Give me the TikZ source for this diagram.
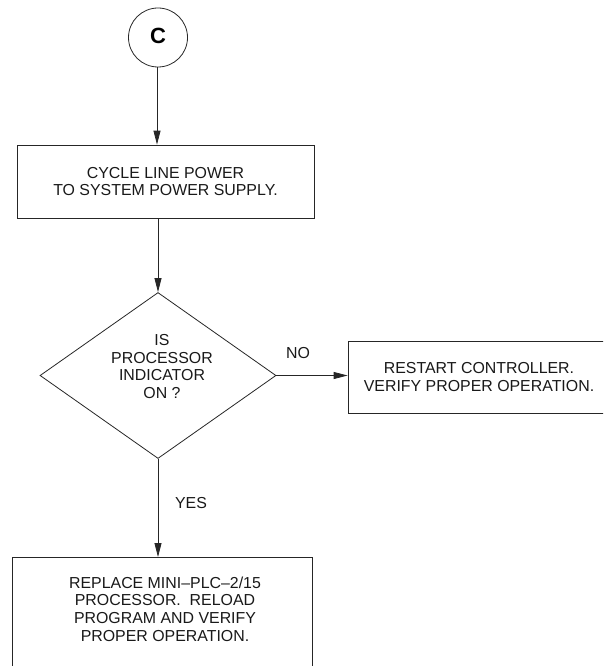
\documentclass[tikz,border=0pt]{standalone}
\usepackage{fontspec}
\setmainfont{Liberation Sans}
\usetikzlibrary{shapes.geometric,arrows.meta}
\begin{document}
\begin{tikzpicture}[x=1pt,y=-1pt,
  every node/.style={inner sep=0pt},
  ln/.style={draw=black!85,line width=0.8pt},
  arr/.style={ln,-{Triangle[length=14pt,width=7pt]}},
  txt/.style={font=\fontsize{15.9}{17.6}\selectfont,align=center,text=black!90},
  boxn/.style={ln,rectangle}]
\useasboundingbox (0,0) rectangle (603,666);
\clip (0,0) rectangle (603,666);
\node[ln,circle,minimum size=59pt] (c) at (158,37.5) {};
\node[font=\fontsize{22}{22}\bfseries] (cl) at (158,36) {C};
\node[boxn,minimum width=297pt,minimum height=73pt,txt] (b1) at (165.5,181.5) {CYCLE LINE POWER\\TO SYSTEM POWER SUPPLY.};
\node[ln,diamond,minimum width=236pt,minimum height=166pt] (d) at (158,375.5) {};
\node[txt] (dt) at (162,366.5) {IS\\PROCESSOR\\INDICATOR\\ON ?};
\node[boxn,minimum width=262pt,minimum height=72pt,txt] (b2) at (479,377) {RESTART CONTROLLER.\\VERIFY PROPER OPERATION.};
\node[boxn,minimum width=300pt,minimum height=140pt,anchor=north] (b3) at (162,557) {};
\node[txt] (t3) at (165,609) {REPLACE MINI--PLC--2/15\\PROCESSOR.\ \ RELOAD\\PROGRAM AND VERIFY\\PROPER OPERATION.};
\node[txt] (no) at (298,353) {NO};
\node[txt] (yes) at (191,503) {YES};
\draw[arr] (c.south -| 157,0) -- (157,0 |- b1.north);
\draw[arr] (b1.south -| d.north) -- (d.north);
\draw[arr] (d.east) -- (d.east -| b2.west);
\draw[arr] (d.south) -- (d.south |- b3.north);
\end{tikzpicture}
\end{document}
